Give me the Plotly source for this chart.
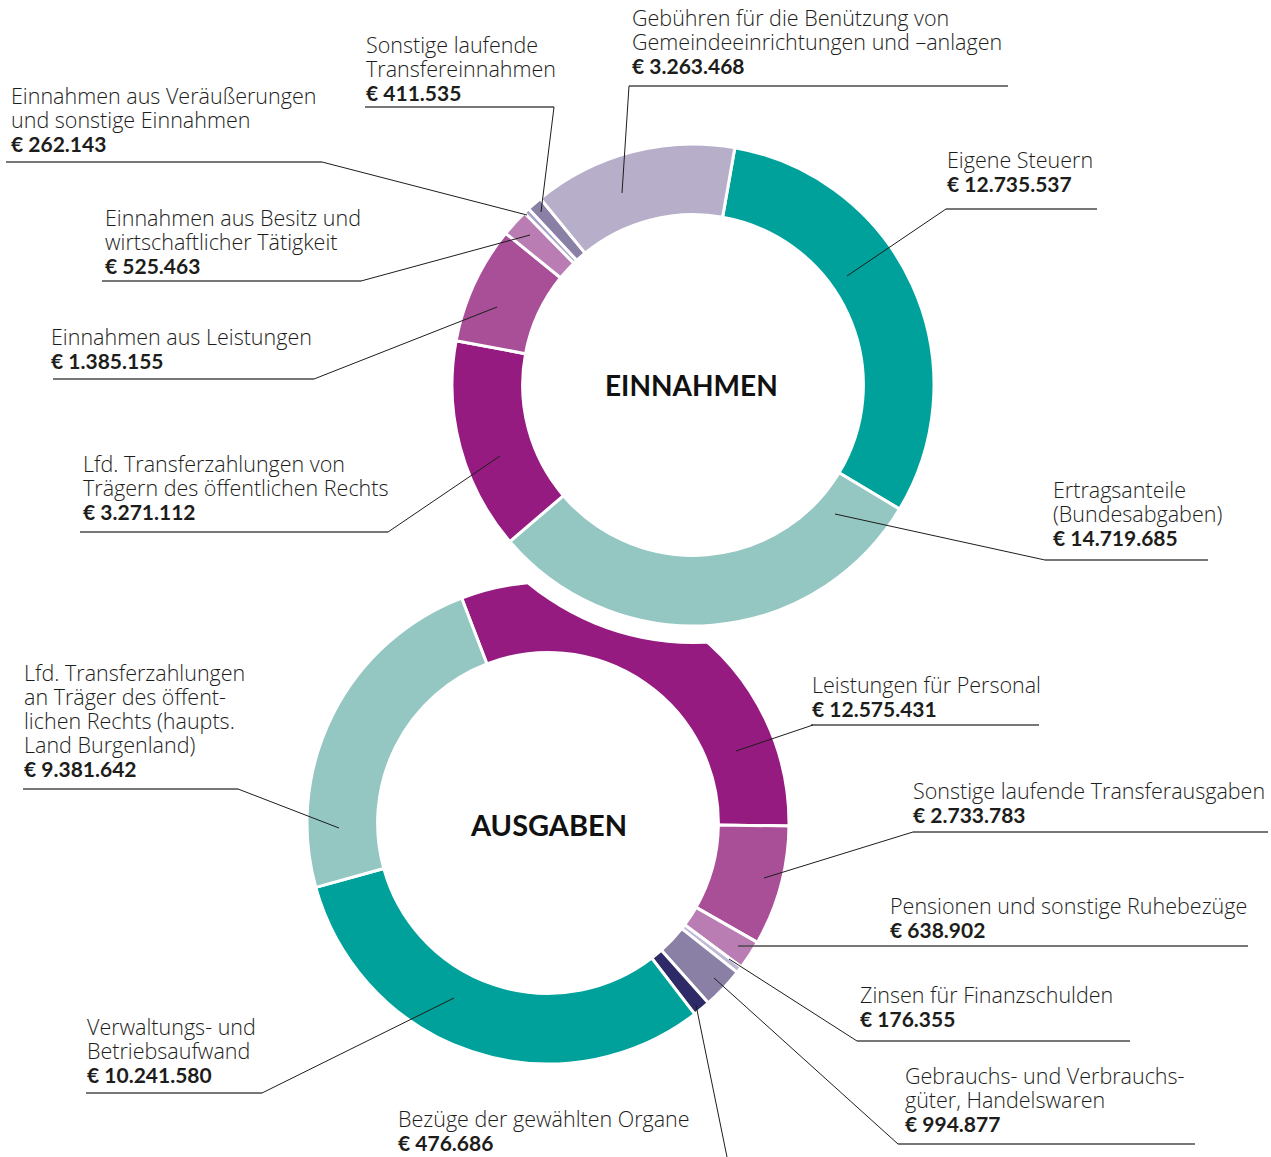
import plotly.graph_objects as go

W, H = 1271, 1157

# ---------------- DATA ----------------
# EINNAHMEN (income) - order clockwise from the start angle
inc_names = [
    "Eigene Steuern",
    "Ertragsanteile|(Bundesabgaben)",
    "Lfd. Transferzahlungen von|Trägern des öffentlichen Rechts",
    "Einnahmen aus Leistungen",
    "Einnahmen aus Besitz und|wirtschaftlicher Tätigkeit",
    "Einnahmen aus Veräußerungen|und sonstige Einnahmen",
    "Sonstige laufende|Transfereinnahmen",
    "Gebühren für die Benützung von|Gemeindeeinrichtungen und –anlagen",
]
inc_amounts = [12735537, 14719685, 3271112, 1385155, 525463, 262143, 411535, 3263468]
# slice sizes as drawn in the original graphic (degrees, not proportional to amounts)
inc_slice_deg = [111.0, 108.5, 51.1, 28.4, 6.6, 1.4, 3.7, 49.3]
inc_colors = ["#00a19a", "#94c6c2", "#951b81", "#a84f97", "#b97db3", "#a8a2c8", "#8a80a5", "#b7afca"]
inc_start_deg = 10

# AUSGABEN (expenditure)
exp_names = [
    "Leistungen für Personal",
    "Sonstige laufende Transferausgaben",
    "Pensionen und sonstige Ruhebezüge",
    "Zinsen für Finanzschulden",
    "Gebrauchs- und Verbrauchs-|güter, Handelswaren",
    "Bezüge der gewählten Organe",
    "Verwaltungs- und|Betriebsaufwand",
    "Lfd. Transferzahlungen|an Träger des öffent-|lichen Rechts (haupts.|Land Burgenland)",
]
exp_amounts = [12575431, 2733783, 638902, 176355, 994877, 476686, 10241580, 9381642]
exp_slice_deg = [111.7, 29.0, 7.0, 1.6, 10.0, 4.2, 112.0, 84.5]
exp_colors = ["#951b81", "#a84f97", "#b97db3", "#c0b9d6", "#8a80a5", "#2e2a67", "#00a19a", "#94c6c2"]
exp_start_deg = 339

# ---------------- LAYOUT HELPERS ----------------
def px(x):
    return x / W

def py(y):
    return 1 - y / H

def domain(cx, cy, r):
    return dict(x=[px(cx - r), px(cx + r)], y=[py(cy + r), py(cy - r)])

TOP_C, BOT_C, R = (693, 385), (548, 823), 241
HOLE = 0.707

fig = go.Figure()

# Ausgaben donut (drawn first)
fig.add_trace(go.Pie(
    values=exp_slice_deg, labels=[n.replace("|", " ") for n in exp_names],
    marker=dict(colors=exp_colors, line=dict(color="white", width=3)),
    hole=HOLE, sort=False, direction="clockwise", rotation=exp_start_deg,
    textinfo="none", hoverinfo="skip", showlegend=False,
    domain=domain(*BOT_C, R),
))
# white halo separating the two rings
fig.add_trace(go.Pie(
    values=[1], labels=["halo"], marker=dict(colors=["white"], line=dict(width=0)),
    sort=False, textinfo="none", hoverinfo="skip", showlegend=False,
    domain=domain(*TOP_C, 259),
))
# Einnahmen donut
fig.add_trace(go.Pie(
    values=inc_slice_deg, labels=[n.replace("|", " ") for n in inc_names],
    marker=dict(colors=inc_colors, line=dict(color="white", width=3)),
    hole=HOLE, sort=False, direction="clockwise", rotation=inc_start_deg,
    textinfo="none", hoverinfo="skip", showlegend=False,
    domain=domain(*TOP_C, R),
))

# label placement: (text x, first-line centre y, underline [x0,x1,y], leader (x0,y0,x1,y1))
inc_place = [
    (946, 160, (946, 1097, 209), (946, 209, 847, 276)),
    (1052, 490, (1045, 1208, 560), (1045, 560, 835, 514)),
    (82, 465, (80, 388, 532), (388, 532, 500, 456)),
    (50, 338, (53, 314, 379), (314, 379, 497, 307)),
    (104, 218, (102, 361, 281), (361, 281, 530, 235)),
    (10, 96, (6, 322, 162), (322, 162, 527, 215)),
    (365, 45, (365, 554, 107), (554, 107, 541, 212)),
    (631, 19, (629, 1008, 86), (629, 86, 622, 193)),
]
exp_place = [
    (811, 685, (811, 1039, 725), (813, 725, 736, 751)),
    (912, 791, (913, 1268, 832), (913, 832, 764, 878)),
    (889, 906, (738, 1248, 946), None),
    (859, 996, (857, 1130, 1041), (857, 1041, 729, 959)),
    (904, 1076, (898, 1195, 1144), (898, 1144, 714, 978)),
    (397, 1119, None, (696, 1005, 727, 1157)),
    (86, 1027, (86, 262, 1093), (262, 1093, 454, 998)),
    (23, 673, (23, 238, 789), (238, 789, 339, 828)),
]

LINE_H = 24
BASE_SIZE = LINE_H / 1.3      # plotly line spacing = 1.3 em of the base font
TXT = "#1d1d1b"
annotations, shapes = [], []

def fmt(v):
    return "€ " + f"{v:,}".replace(",", ".")

def add_label(name, amount, place):
    tx, ty, under, lead = place
    lines = name.split("|")
    parts = ['<span style="font-size:21.5px">' + ln + "</span>" for ln in lines]
    parts.append('<span style="font-family:Lato;font-size:21px"><b>' + fmt(amount) + "</b></span>")
    n = len(parts)
    annotations.append(dict(
        x=px(tx - 1), y=py(ty - 2 + (n - 1) * LINE_H / 2), xref="paper", yref="paper",
        text="<br>".join(parts), showarrow=False, xanchor="left", yanchor="middle", align="left",
        font=dict(family="Open Sans", size=BASE_SIZE, color=TXT, weight=300),
    ))
    if under:
        x0, x1, yy = under
        shapes.append(dict(type="line", xref="paper", yref="paper",
                           x0=px(x0), x1=px(x1), y0=py(yy), y1=py(yy),
                           line=dict(color="#4a4a4a", width=1.3)))
    if lead:
        x0, y0, x1, y1 = lead
        shapes.append(dict(type="line", xref="paper", yref="paper",
                           x0=px(x0), x1=px(x1), y0=py(y0), y1=py(y1),
                           line=dict(color="#1d1d1b", width=1)))

for n, a, p in zip(inc_names, inc_amounts, inc_place):
    add_label(n, a, p)
for n, a, p in zip(exp_names, exp_amounts, exp_place):
    add_label(n, a, p)

annotations.append(dict(x=px(691), y=py(385), xref="paper", yref="paper", text="<b>EINNAHMEN</b>",
                        showarrow=False, xanchor="center", yanchor="middle",
                        font=dict(family="Lato", size=28, color="#111111")))
annotations.append(dict(x=px(548), y=py(824), xref="paper", yref="paper", text="<b>AUSGABEN</b>",
                        showarrow=False, xanchor="center", yanchor="middle",
                        font=dict(family="Lato", size=29, color="#111111")))

fig.update_layout(
    width=W, height=H, margin=dict(l=0, r=0, t=0, b=0),
    paper_bgcolor="white", plot_bgcolor="white",
    annotations=annotations, shapes=shapes,
)

fig.write_html("out.html", config={"displayModeBar": False},
               post_script="document.body.style.margin='0';")
